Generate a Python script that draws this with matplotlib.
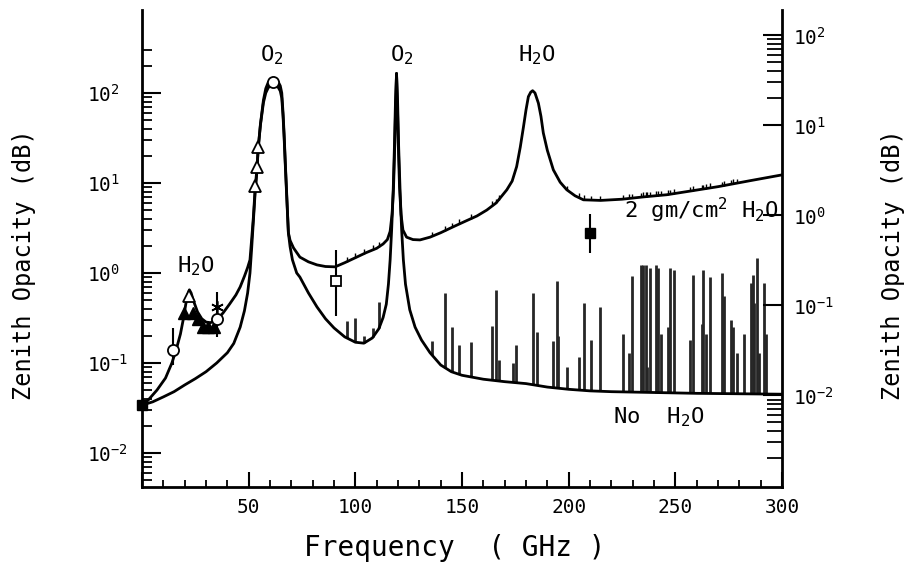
import numpy as np
import matplotlib
matplotlib.use('Agg')
import matplotlib.pyplot as plt
from matplotlib.ticker import FixedLocator, NullFormatter

plt.rcParams['font.family'] = 'DejaVu Sans Mono'
plt.rcParams['mathtext.fontset'] = 'custom'
plt.rcParams['mathtext.rm'] = 'DejaVu Sans Mono'
plt.rcParams['mathtext.it'] = 'DejaVu Sans Mono'
plt.rcParams['mathtext.bf'] = 'DejaVu Sans Mono'

# opacity with 2 gm/cm^2 of water vapour
wet_freq = [0, 3, 7, 11, 14, 16, 18, 19.5, 20.5, 21.5,
            22.2, 23, 24, 26, 28, 30, 32, 35, 38, 41,
            44, 46, 48, 49.5, 50.6, 51.4, 52.2, 53, 53.8, 54.5,
            55.5, 56.9, 58, 59.2, 61.5, 63.9, 64.8, 65.5, 66.1, 66.6,
            67.2, 67.8, 68.6, 69.4, 71, 74, 78, 82, 86, 90.5,
            95, 100.6, 105, 110, 113, 115, 116.3, 117.2, 117.9, 118.5,
            118.9, 119.3, 119.7, 120.1, 120.7, 121.4, 122.3, 124, 127, 130.3,
            135, 140, 146, 152, 157, 161.6, 166, 171, 173.5, 175.6,
            177.3, 178.8, 180, 181.1, 182.2, 183.1, 184.2, 185.8, 187, 188.1,
            190, 192.8, 196, 199.1, 203, 206.9, 215, 225, 235, 246,
            258, 270, 285, 300]
wet_val = [0.034, 0.039, 0.05, 0.068, 0.1, 0.14, 0.21, 0.32, 0.45, 0.58,
           0.65, 0.6, 0.5, 0.37, 0.31, 0.285, 0.28, 0.3, 0.36, 0.45,
           0.57, 0.7, 0.92, 1.15, 1.4, 2.4, 4.2, 8.5, 14, 25,
           45, 83, 112, 132, 140, 132, 120, 100, 60, 35,
           16, 7.7, 2.8, 2.3, 1.9, 1.5, 1.33, 1.23, 1.18, 1.17,
           1.3, 1.5, 1.68, 1.88, 2.1, 2.35, 2.9, 4.5, 9, 28,
           75, 165, 75, 28, 9, 4.5, 3.0, 2.5, 2.35, 2.33,
           2.5, 2.8, 3.27, 3.8, 4.3, 5.0, 6.0, 8.4, 10.5, 15.2,
           25, 42, 65, 91, 102, 106, 100, 77, 55, 36,
           23, 14, 10.2, 8.4, 7.2, 6.5, 6.4, 6.6, 7.0, 7.4,
           8.2, 9.1, 10.6, 12.3]

# opacity with no water vapour
dry_freq = [0, 5, 10, 15, 20, 25, 30, 35, 40, 43,
            46, 48, 49.5, 50.6, 51.4, 52.2, 53, 53.8, 54.5, 55.5,
            56.9, 58, 59.2, 61.5, 63.9, 64.8, 65.5, 66.1, 66.6, 67.2,
            67.8, 68.6, 69.4, 70.5, 72.5, 74, 78, 82, 86, 90,
            95, 100, 104, 108, 111, 113, 114.5, 115.5, 116.3, 117,
            117.7, 118.3, 118.8, 119.3, 119.8, 120.3, 121, 121.7, 122.5, 123.5,
            125.5, 128, 131, 135, 140, 145, 150, 160, 170, 180,
            190, 200, 210, 220, 240, 260, 280, 300]
dry_val = [0.034, 0.037, 0.042, 0.048, 0.057, 0.067, 0.08, 0.1, 0.13, 0.165,
           0.25, 0.38, 0.6, 1.0, 1.9, 3.8, 7.7, 13, 25, 44,
           78, 100, 115, 124, 115, 105, 88, 55, 32, 15,
           7.2, 2.8, 1.96, 1.4, 1.0, 0.9, 0.6, 0.42, 0.31, 0.245,
           0.195, 0.17, 0.166, 0.19, 0.24, 0.32, 0.45, 0.75, 1.4, 3,
           7.7, 25, 80, 165, 80, 25, 7.7, 3, 1.4, 0.75,
           0.39, 0.25, 0.18, 0.13, 0.095, 0.08, 0.073, 0.066, 0.062, 0.059,
           0.054, 0.051, 0.049, 0.048, 0.047, 0.046, 0.0455, 0.045]

# narrow lines standing on the dry curve
line_freq = [96, 99.8, 104, 108.4, 111.2, 135.8, 142, 145.2, 148.8, 154.1,
             164.2, 166, 167.2, 173.8, 175.2, 183.4, 185, 192.8, 194.4, 195.2,
             199.4, 205, 207.2, 210.3, 214.7, 225.3, 228.3, 229.5, 233.7, 235,
             236.1, 236.9, 238.1, 240.8, 242, 243.2, 246.7, 247.5, 249.4, 256.9,
             258.1, 262.3, 263.1, 264.4, 266.3, 271.7, 272.8, 276.1, 277.2, 278.8,
             282.3, 285.3, 286.2, 287, 288.1, 289, 291.7, 292.5]
line_top = [0.29, 0.32, 0.2, 0.245, 0.47, 0.177, 0.6, 0.25, 0.16, 0.172,
            0.26, 0.65, 0.108, 0.1, 0.16, 0.6, 0.22, 0.175, 0.82, 0.2,
            0.091, 0.118, 0.46, 0.18, 0.415, 0.21, 0.128, 0.93, 1.23, 1.23,
            1.23, 0.09, 1.15, 1.23, 1.13, 0.21, 0.25, 1.15, 1.08, 0.18,
            0.95, 0.27, 1.08, 0.21, 0.9, 1.0, 0.55, 0.3, 0.25, 0.13,
            0.21, 0.77, 0.95, 0.46, 1.46, 0.128, 0.77, 0.21]

# measurements
tri_open_f = [22.2, 53.0, 53.8, 54.5]
tri_open_v = [0.55, 9.3, 15, 25]
tri_fill_f = [19.5, 23.8, 26.3, 28.6, 31.0, 33.6]
tri_fill_v = [0.36, 0.36, 0.31, 0.25, 0.25, 0.25]
circ_f = [14.7, 35.0, 61.5]
circ_v = [0.14, 0.31, 134]
err_f = [14.7, 35.3, 90.8, 210]
err_lo = [0.095, 0.196, 0.33, 1.68]
err_hi = [0.245, 0.62, 1.8, 4.5]

fig = plt.figure(figsize=(9.14, 5.64), dpi=100)
ax = fig.add_axes([0.1554, 0.1365, 0.7002, 0.8458])

ax.plot(wet_freq, wet_val, color='black', lw=2, zorder=3)
ax.plot(dry_freq, dry_val, color='black', lw=2, zorder=3)

# line bases follow the curves
base = 10 ** np.interp(line_freq, dry_freq, np.log10(dry_val))
ax.vlines(line_freq, base, line_top, color='#262626', lw=2, zorder=2)
up_base = 10 ** np.interp(line_freq, wet_freq, np.log10(wet_val))
keep = up_base < 10
ax.vlines(np.array(line_freq)[keep], up_base[keep], up_base[keep] * 1.12,
          color='black', lw=1.0, zorder=2)

ax.vlines(err_f, err_lo, err_hi, color='black', lw=1.5, zorder=4)
ax.plot(tri_open_f, tri_open_v, '^', ms=8, mfc='white', mec='black', mew=1.3, zorder=5)
ax.plot(tri_fill_f, tri_fill_v, '^', ms=8, color='black', zorder=5)
ax.plot(circ_f, circ_v, 'o', ms=8, mfc='white', mec='black', mew=1.3, zorder=5)
ax.plot([35.3], [0.42], marker=(6, 2, 0), ms=9, color='black', mew=1.2, zorder=5)
ax.plot([90.8], [0.81], 's', ms=7, mfc='white', mec='black', mew=1.3, zorder=5)
ax.plot([210], [2.76], 's', ms=7, color='black', zorder=5)
ax.plot([0], [0.034], 's', ms=7, color='black', zorder=6, clip_on=False)

ax.set_yscale('log')
ax.set_xlim(0, 300)
ax.set_ylim(10 ** -2.378, 10 ** 2.922)

ax.xaxis.set_major_locator(FixedLocator([0, 50, 100, 150, 200, 250, 300]))
ax.xaxis.set_minor_locator(FixedLocator(np.arange(10, 300, 10)))
ax.set_xticklabels(['', '50', '100', '150', '200', '250', '300'])

yminor = [m * 10.0 ** d for d in range(-3, 3) for m in range(2, 10)]
yminor = [v for v in yminor if 10 ** -2.378 < v <= 300]
ax.yaxis.set_major_locator(FixedLocator([1e-2, 1e-1, 1, 10, 100]))
ax.yaxis.set_minor_locator(FixedLocator(yminor))
ax.yaxis.set_minor_formatter(NullFormatter())

ax.tick_params(axis='x', which='major', direction='in', length=11, width=1.5,
               labelsize=14, pad=8, top=False)
ax.tick_params(axis='x', which='minor', direction='in', length=5, width=1.3, top=False)
ax.tick_params(axis='y', which='major', direction='in', length=14, width=1.5,
               labelsize=14, pad=39.6, right=False)
ax.tick_params(axis='y', which='minor', direction='in', length=7, width=1.3, right=False)
for t in ax.yaxis.get_major_ticks():
    t.label1.set_horizontalalignment('left')

ax.spines['top'].set_visible(False)
ax.spines['right'].set_visible(False)
for s in ['left', 'bottom']:
    ax.spines[s].set_linewidth(2)

# right-hand axis, shifted scale
shift = 10 ** -0.64
ax2 = ax.twinx()
ax2.set_yscale('log')
ax2.set_ylim(10 ** -2.378 * shift, 10 ** 2.922 * shift)
rminor = [m * 10.0 ** d for d in (-3, 1) for m in range(2, 10)]
ax2.yaxis.set_major_locator(FixedLocator([1e-2, 1e-1, 1, 10, 100]))
ax2.yaxis.set_minor_locator(FixedLocator(rminor))
ax2.yaxis.set_minor_formatter(NullFormatter())
ax2.tick_params(axis='y', which='major', direction='in', length=14, width=1.5,
                labelsize=14, pad=8)
ax2.tick_params(axis='y', which='minor', direction='in', length=11, width=1.3)
for s in ['top', 'left', 'bottom']:
    ax2.spines[s].set_visible(False)
ax2.spines['right'].set_linewidth(2)

# annotations
ax.text(61, 265, r'O$_2$', fontsize=16, ha='center', va='center')
ax.text(122, 265, r'O$_2$', fontsize=16, ha='center', va='center')
ax.text(185, 265, r'H$_2$O', fontsize=16, ha='center', va='center')
ax.text(25.3, 1.2, r'H$_2$O', fontsize=16, ha='center', va='center')
ax.text(298.5, 4.9, r'2 gm/cm$^2$ H$_2$O', fontsize=16, ha='right', va='center')
ax.text(220.8, 0.0253, r'No  H$_2$O', fontsize=16, ha='left', va='center')

fig.text(455 / 914, 1 - 548 / 564, 'Frequency  ( GHz )', fontsize=20,
         ha='center', va='center')
fig.text(24 / 914, 1 - 265 / 564, 'Zenith Opacity (dB)', fontsize=17,
         rotation=90, ha='center', va='center')
fig.text(893 / 914, 1 - 265 / 564, 'Zenith Opacity (dB)', fontsize=17,
         rotation=90, ha='center', va='center')

fig.savefig('out.png', dpi=100)
